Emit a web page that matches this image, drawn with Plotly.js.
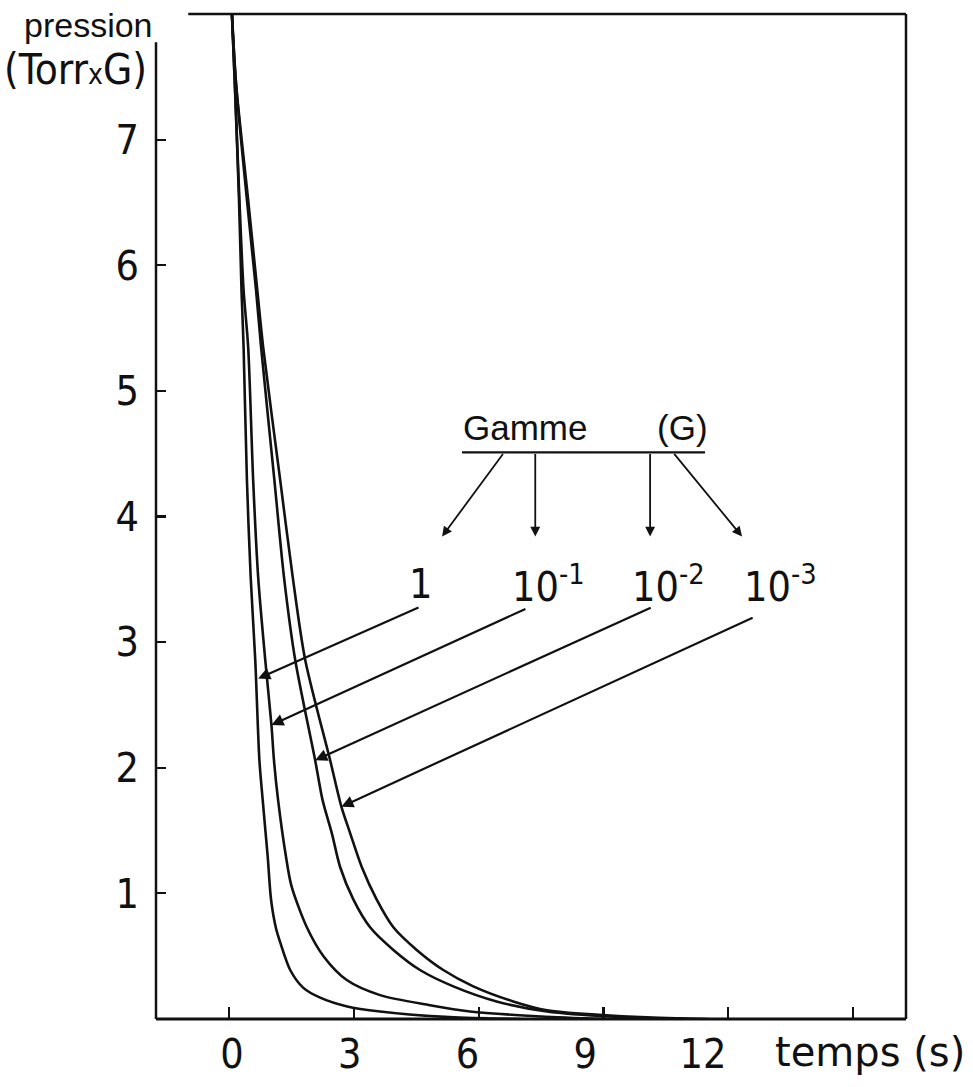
<!DOCTYPE html>
<html>
<head>
<meta charset="utf-8">
<script src="https://cdn.plot.ly/plotly-3.0.1.min.js"></script>
<style>html,body{margin:0;padding:0;background:#fff;}#chart{width:973px;height:1087px;}</style>
</head>
<body>
<div id="chart"></div>
<script>
// Time (s) and pressure (Torr x G), one pair of arrays per gamme
const t_G1 = [0.07, 0.14, 0.24, 0.30, 0.35, 0.43, 0.52, 0.63, 0.73, 0.81, 0.93, 1.01, 1.13, 1.23, 1.47, 1.78, 2.19, 2.84, 3.63, 5.3, 7.0];
const p_G1 = [8.00, 7.44, 6.52, 5.80, 5.35, 4.29, 3.52, 2.86, 2.06, 1.74, 1.29, 0.95, 0.72, 0.61, 0.39, 0.25, 0.17, 0.10, 0.06, 0.015, 0.0];

const t_G01 = [0.07, 0.14, 0.25, 0.35, 0.46, 0.58, 0.70, 0.87, 1.02, 1.08, 1.18, 1.37, 1.50, 1.87, 2.27, 2.83, 3.63, 4.83, 5.79, 7.5, 9.0];
const p_G01 = [8.00, 7.44, 6.52, 5.80, 5.35, 4.29, 3.52, 2.86, 2.34, 2.06, 1.74, 1.29, 1.06, 0.73, 0.50, 0.31, 0.19, 0.11, 0.06, 0.02, 0.0];

const t_G001 = [0.07, 0.17, 0.43, 0.65, 0.77, 1.09, 1.32, 1.59, 2.07, 2.25, 2.47, 2.67, 2.99, 3.39, 3.95, 4.59, 5.39, 6.43, 7.64, 9.4, 11.0];
const p_G001 = [8.00, 7.44, 6.52, 5.80, 5.35, 4.29, 3.52, 2.86, 2.06, 1.74, 1.48, 1.21, 0.95, 0.73, 0.55, 0.39, 0.26, 0.14, 0.06, 0.015, 0.0];

const t_G0001 = [0.07, 0.17, 0.46, 0.68, 0.82, 1.23, 1.53, 1.83, 2.43, 2.70, 2.91, 3.19, 3.55, 3.95, 4.51, 5.15, 5.87, 6.83, 7.64, 9.9, 11.5];
const p_G0001 = [8.00, 7.44, 6.52, 5.80, 5.35, 4.29, 3.52, 2.86, 2.06, 1.69, 1.48, 1.21, 0.95, 0.73, 0.55, 0.39, 0.26, 0.14, 0.07, 0.015, 0.0];

// Axis ticks
const xTickVals = [0, 3, 6, 9, 12, 15];
const xLabelVals = [0, 3, 6, 9, 12];
const xLabelText = ['0', '3', '6', '9', '12'];
const yTickVals = [1, 2, 3, 4, 5, 6, 7];
const yTickText = ['1', '2', '3', '4', '5', '6', '7'];

// Gamme labels and the points of the curves they designate
const gammeLabels = ['1', '10<sup>-1</sup>', '10<sup>-2</sup>', '10<sup>-3</sup>'];
const labelT = [4.28, 6.75, 9.64, 12.33];
const labelP = [3.46, 3.46, 3.46, 3.46];
const pointerTailT = [4.59, 7.16, 10.17, 12.62];
const pointerTailP = [3.28, 3.27, 3.28, 3.20];
const pointerTipT = [0.70, 1.02, 2.07, 2.70];
const pointerTipP = [2.71, 2.34, 2.06, 1.69];
const braceTailT = [6.61, 7.36, 10.12, 10.67];
const braceTipT = [5.12, 7.36, 10.12, 12.33];
const braceP = 4.51;
const braceTipP = 3.84;

const ink = '#111';
const curveStyle = {color: ink, width: 2.6, shape: 'spline', smoothing: 0.8};
const traces = [
  {x: t_G1, y: p_G1, mode: 'lines', line: curveStyle, name: 'G = 1'},
  {x: t_G01, y: p_G01, mode: 'lines', line: curveStyle, name: 'G = 0.1'},
  {x: t_G001, y: p_G001, mode: 'lines', line: curveStyle, name: 'G = 0.01'},
  {x: t_G0001, y: p_G0001, mode: 'lines', line: curveStyle, name: 'G = 0.001'}
];

const narrow = 'Liberation Sans Narrow, DejaVu Sans Condensed, sans-serif';
const annotations = [];
for (let i = 0; i < gammeLabels.length; i++) {
  annotations.push({x: labelT[i], y: labelP[i], xref: 'x', yref: 'y', text: gammeLabels[i],
    showarrow: false, xanchor: 'left', yanchor: 'middle', font: {family: narrow, size: 41, color: ink}});
  annotations.push({x: pointerTipT[i], y: pointerTipP[i], xref: 'x', yref: 'y', axref: 'x', ayref: 'y',
    ax: pointerTailT[i], ay: pointerTailP[i], text: '', showarrow: true, arrowhead: 2, arrowsize: 1.1,
    arrowwidth: 2.2, arrowcolor: ink});
  annotations.push({x: braceTipT[i], y: braceTipP, xref: 'x', yref: 'y', axref: 'x', ayref: 'y',
    ax: braceTailT[i], ay: braceP, text: '', showarrow: true, arrowhead: 2, arrowsize: 1.1,
    arrowwidth: 1.8, arrowcolor: ink});
}
annotations.push({x: 7.12, y: 4.71, xref: 'x', yref: 'y', text: 'Gamme', showarrow: false,
  font: {family: 'Liberation Sans, sans-serif', size: 35, color: ink}});
annotations.push({x: 10.91, y: 4.71, xref: 'x', yref: 'y', text: '(G)', showarrow: false,
  font: {family: 'Liberation Sans, sans-serif', size: 35, color: ink}});
annotations.push({x: -0.0013, y: 0.989, xref: 'paper', yref: 'paper', xanchor: 'right', yanchor: 'middle',
  text: 'pression', showarrow: false, font: {family: 'Liberation Sans, sans-serif', size: 34, color: ink}});
annotations.push({x: -0.009, y: 0.945, xref: 'paper', yref: 'paper', xanchor: 'right', yanchor: 'middle',
  text: '(Torr<span style="font-size:28px">x</span>G)', showarrow: false, font: {family: narrow, size: 42, color: ink}});
annotations.push({x: 0.952, y: -0.033, xref: 'paper', yref: 'paper', xanchor: 'center', yanchor: 'middle',
  text: 'temps (s)', showarrow: false, font: {family: 'DejaVu Sans, sans-serif', size: 40, color: ink}});

const shapes = [
  {type: 'line', xref: 'x', yref: 'y', x0: 5.60, x1: 11.44, y0: braceP, y1: braceP, line: {color: ink, width: 2.2}},
  {type: 'line', xref: 'x domain', yref: 'y domain', x0: 0, x1: 0, y0: 0, y1: 0.972, line: {color: ink, width: 2.5}},
  {type: 'line', xref: 'x domain', yref: 'y domain', x0: 0.043, x1: 1, y0: 1, y1: 1, line: {color: ink, width: 2.5}},
  {type: 'line', xref: 'x domain', yref: 'y domain', x0: 1, x1: 1, y0: 0, y1: 1, line: {color: ink, width: 2.5}},
  {type: 'line', xref: 'x domain', yref: 'y domain', x0: 0, x1: 1, y0: 0, y1: 0, line: {color: ink, width: 3}}
];

const layout = {
  width: 973, height: 1087,
  margin: {l: 156, r: 67, t: 14, b: 68},
  paper_bgcolor: '#fff', plot_bgcolor: '#fff',
  showlegend: false,
  xaxis: {range: [-1.755, 16.27], tickvals: xTickVals, showticklabels: false, ticks: 'inside',
    ticklen: 12, tickwidth: 2.2, tickcolor: ink, showgrid: false, zeroline: false, showline: false, fixedrange: true},
  xaxis2: {overlaying: 'x', side: 'bottom', anchor: 'y', range: [-1.936, 17.17], tickvals: xLabelVals,
    ticktext: xLabelText, ticks: '', showgrid: false, zeroline: false, showline: false, ticklabelstandoff: 7,
    tickfont: {family: narrow, size: 41, color: ink}, fixedrange: true},
  yaxis: {range: [0, 8], tickvals: yTickVals, ticktext: yTickText, ticks: 'inside', ticklen: 10,
    tickwidth: 2.2, tickcolor: ink, showgrid: false, zeroline: false, showline: false, ticklabelstandoff: 16,
    tickfont: {family: narrow, size: 41, color: ink}, fixedrange: true},
  annotations: annotations,
  shapes: shapes
};

// invisible trace on xaxis2 so that the label axis is drawn
traces.push({x: [0], y: [0], xaxis: 'x2', yaxis: 'y', mode: 'markers', marker: {opacity: 0}, hoverinfo: 'skip'});

Plotly.newPlot('chart', traces, layout, {displayModeBar: false, staticPlot: true});
</script>
</body>
</html>
